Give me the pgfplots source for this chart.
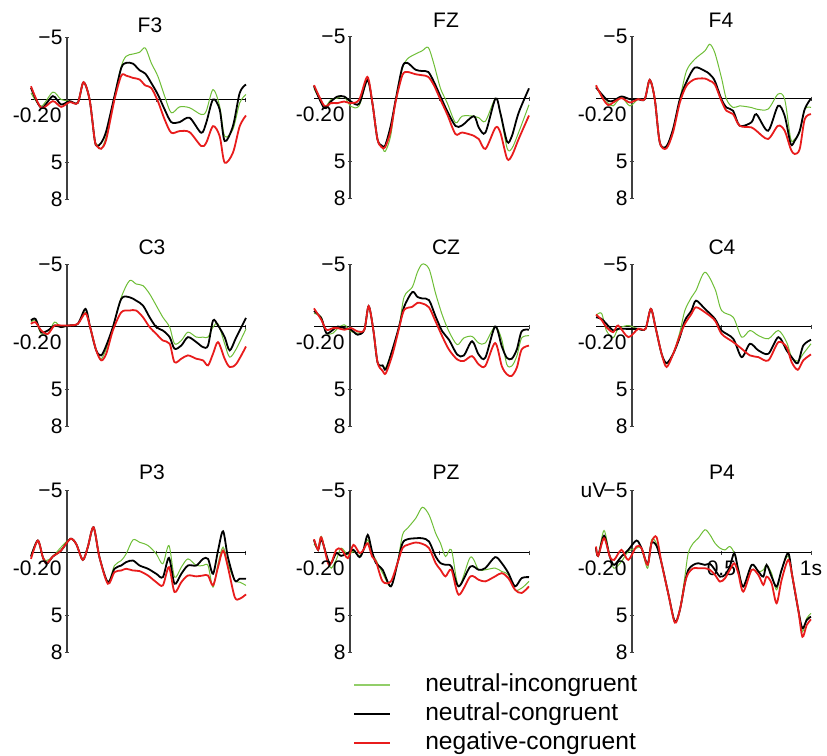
\documentclass[border=0pt]{standalone}
\usepackage{fontspec}
\setmainfont{Liberation Sans}
\usepackage{pgfplots}
\usepackage{pgfplotstable}
\pgfplotsset{compat=1.18}

\definecolor{ninc}{RGB}{110,190,55}
\definecolor{negc}{RGB}{232,28,28}

% t = time (s), g = neutral-incongruent, b = neutral-congruent, r = negative-congruent (uV)
\pgfplotstableread{
t g b r
-0.200 -0.53 -0.93 -1.06
-0.143 0.53 0.66 0.66
-0.078 -0.59 -0.27 0.13
-0.032 0.00 0.40 0.59
0.015 0.13 0.13 0.21
0.061 0.27 0.27 0.27
0.093 -1.38 -1.38 -1.38
0.127 0.00 0.00 0.00
0.155 3.19 3.19 3.19
0.168 3.59 3.72 3.72
0.192 3.94 3.46 3.94
0.220 2.93 2.53 3.19
0.266 -0.27 -0.27 0.00
0.304 -2.66 -2.53 -1.91
0.331 -3.46 -2.93 -1.91
0.369 -3.64 -2.87 -1.73
0.406 -3.78 -2.34 -1.60
0.438 -4.12 -2.07 -1.12
0.471 -2.93 -1.33 -0.93
0.508 -1.86 -0.40 0.13
0.546 -0.27 0.80 1.60
0.583 1.06 1.81 2.66
0.629 0.59 1.81 2.53
0.685 0.66 1.46 2.61
0.750 1.20 2.66 3.72
0.778 0.93 1.86 3.46
0.816 -0.80 0.00 2.13
0.853 0.53 0.80 2.93
0.881 2.93 3.32 5.05
0.927 2.39 2.13 4.26
0.965 0.27 -0.53 2.13
1.000 -0.40 -1.20 1.28
}\dFthree

\pgfplotstableread{
t g b r
-0.200 -0.81 -0.99 -1.07
-0.143 0.63 0.76 0.58
-0.106 0.10 0.24 0.37
-0.069 -0.03 -0.16 0.37
-0.032 -0.16 -0.16 0.24
0.006 0.63 0.24 0.37
0.052 0.58 0.42 0.10
0.098 -1.47 -1.47 -1.73
0.126 0.37 0.37 0.37
0.154 3.25 3.25 3.25
0.178 3.77 3.77 3.90
0.197 4.24 3.77 3.90
0.228 2.98 2.20 2.59
0.256 0.10 0.10 0.24
0.293 -2.38 -2.51 -1.86
0.321 -3.17 -2.85 -2.12
0.367 -3.56 -2.30 -1.94
0.404 -3.82 -2.20 -1.86
0.438 -4.08 -2.12 -1.73
0.469 -2.77 -1.34 -1.07
0.506 -0.81 -0.16 0.10
0.544 0.37 1.02 1.28
0.590 1.94 2.20 2.85
0.627 1.41 2.15 2.72
0.692 1.41 1.41 2.98
0.720 1.54 2.33 3.25
0.757 1.81 2.72 4.03
0.813 0.00 0.00 2.33
0.840 1.15 1.15 2.72
0.878 3.98 3.46 4.82
0.905 3.98 2.98 4.55
0.942 2.72 1.15 3.25
1.000 0.50 -0.81 1.36
}\dFZ

\pgfplotstableread{
t g b r
-0.200 -0.96 -0.88 -1.06
-0.160 0.05 -0.21 0.05
-0.132 0.37 0.19 0.53
-0.104 0.59 0.19 0.32
-0.058 -0.08 -0.16 -0.03
-0.011 0.59 0.05 0.32
0.035 0.05 0.05 0.05
0.072 0.05 0.05 0.05
0.100 -1.49 -1.49 -1.49
0.128 0.05 0.05 0.05
0.156 3.51 3.51 3.51
0.193 3.83 3.83 3.99
0.230 2.45 2.45 2.71
0.268 0.05 0.05 0.32
0.305 -2.21 -1.33 -1.01
0.351 -3.14 -2.47 -1.54
0.407 -3.80 -2.21 -1.60
0.435 -4.34 -1.94 -1.41
0.463 -3.67 -1.41 -1.14
0.500 -1.68 0.05 0.19
0.528 0.05 0.72 0.98
0.565 0.72 0.98 1.25
0.602 0.59 2.18 2.18
0.667 0.72 1.91 2.31
0.695 0.85 1.25 2.58
0.760 0.85 2.58 3.24
0.816 -0.35 0.59 2.18
0.853 0.05 1.38 2.58
0.887 3.24 3.64 4.04
0.909 3.24 3.38 4.44
0.937 2.71 2.58 4.04
0.965 0.85 0.85 1.65
1.000 0.72 0.00 1.25
}\dFfour

\pgfplotstableread{
t g b r
-0.200 -0.35 -0.48 -0.21
-0.175 -0.48 -0.61 -0.35
-0.143 0.59 0.45 0.32
-0.106 0.59 0.32 0.59
-0.069 -0.35 -0.08 -0.08
-0.032 0.05 0.05 -0.08
0.006 -0.08 -0.08 -0.08
0.061 -0.21 -0.21 -0.21
0.104 -1.14 -1.41 -1.06
0.130 0.05 0.05 0.05
0.164 1.91 1.91 1.91
0.192 2.58 2.31 2.71
0.220 1.78 1.52 2.18
0.257 0.05 0.05 0.32
0.304 -2.34 -2.21 -1.14
0.350 -3.67 -2.34 -1.28
0.387 -3.40 -2.07 -1.28
0.425 -3.27 -1.68 -0.74
0.462 -2.61 -0.74 0.05
0.499 -1.68 0.05 0.59
0.536 -0.74 0.32 1.12
0.574 0.05 0.85 1.38
0.601 1.38 1.78 2.85
0.639 1.12 1.52 2.58
0.676 0.45 0.85 2.31
0.723 0.85 1.25 2.58
0.760 0.85 1.65 2.71
0.788 0.85 1.52 3.11
0.816 0.05 -0.48 2.18
0.844 -0.21 -0.08 1.25
0.881 1.38 0.85 2.58
0.909 2.45 1.91 3.24
0.946 1.78 0.85 2.98
1.000 0.19 -0.69 1.60
}\dCthree

\pgfplotstableread{
t g b r
-0.200 -1.05 -1.24 -1.45
-0.159 -0.74 -0.66 -0.53
-0.131 0.53 0.53 0.26
-0.094 0.53 0.26 0.13
-0.067 0.13 0.00 0.13
-0.030 -0.13 0.13 0.26
0.007 0.39 0.26 0.13
0.044 0.53 0.66 0.39
0.081 0.26 0.26 0.26
0.105 -1.63 -1.63 -1.63
0.131 0.26 0.26 0.26
0.155 2.89 2.89 2.89
0.183 3.16 3.11 3.55
0.201 3.29 3.42 3.74
0.238 1.84 1.84 2.24
0.275 0.00 0.00 0.13
0.303 -2.37 -1.58 -1.32
0.349 -3.16 -2.76 -1.58
0.377 -4.34 -2.37 -1.89
0.405 -5.00 -2.24 -1.84
0.442 -4.61 -2.11 -1.53
0.479 -2.63 -0.79 -0.39
0.516 -0.92 0.39 0.79
0.553 0.39 1.05 1.84
0.599 1.45 2.24 2.63
0.636 0.92 2.32 2.76
0.682 0.79 1.18 2.37
0.719 1.32 2.24 3.03
0.756 1.32 2.50 3.16
0.811 0.00 0.00 1.32
0.848 1.05 1.58 3.16
0.876 3.03 2.50 3.82
0.904 3.16 2.58 3.95
0.932 2.37 1.84 3.29
0.959 0.92 0.39 1.84
1.000 0.74 0.26 1.53
}\dCZ

\pgfplotstableread{
t g b r
-0.200 -0.88 -0.74 -0.96
-0.169 -1.06 -0.61 -0.53
-0.142 0.32 -0.21 0.05
-0.104 0.90 0.32 0.45
-0.076 0.19 0.19 -0.08
-0.020 -0.08 0.19 0.85
0.035 0.19 0.19 0.19
0.076 0.19 0.19 0.19
0.106 -1.41 -1.41 -1.41
0.132 0.05 0.05 0.05
0.166 2.18 2.18 2.18
0.194 2.98 2.93 3.24
0.231 2.18 2.18 2.18
0.268 0.45 0.85 0.72
0.296 -1.28 -0.48 -0.21
0.333 -2.34 -1.28 -1.01
0.358 -2.87 -2.07 -1.54
0.408 -4.34 -1.41 -1.14
0.464 -3.01 -0.61 -0.48
0.501 -1.28 0.32 0.59
0.566 -0.74 0.98 1.25
0.613 0.85 2.45 1.78
0.659 0.32 1.38 2.31
0.706 0.72 1.91 2.45
0.762 0.98 2.18 2.71
0.818 0.32 0.85 1.25
0.864 1.25 1.91 1.65
0.892 2.45 2.45 2.85
0.926 2.77 2.93 3.46
0.957 2.18 1.52 2.71
1.000 1.38 1.06 2.23
}\dCfour

\pgfplotstableread{
t g b r
-0.200 0.24 0.32 0.51
-0.162 -0.96 -0.96 -0.96
-0.134 0.37 0.37 0.37
-0.112 0.64 0.90 0.85
-0.078 0.32 0.32 0.32
-0.032 -0.43 -0.16 -0.16
0.019 -1.09 -1.09 -1.09
0.052 -0.69 -0.69 -0.69
0.089 0.59 0.59 0.59
0.117 -0.43 -0.43 -0.43
0.149 -2.02 -2.02 -2.02
0.182 0.37 0.37 0.37
0.229 2.37 2.37 2.50
0.266 1.04 1.30 1.57
0.304 0.64 1.04 1.44
0.331 0.11 0.77 1.30
0.369 -1.01 0.64 1.44
0.406 -0.82 1.04 1.49
0.453 -0.56 1.30 1.84
0.499 0.11 1.70 2.37
0.536 0.90 1.97 2.63
0.570 -0.56 0.43 1.17
0.601 1.97 2.50 3.16
0.639 1.17 1.70 2.37
0.676 0.51 1.04 1.84
0.723 1.04 1.04 1.91
0.760 1.04 0.51 1.84
0.788 1.04 0.51 1.84
0.816 2.77 1.70 2.63
0.844 0.90 -0.16 1.17
0.872 -0.43 -1.70 -0.16
0.899 0.90 0.37 1.17
0.937 2.23 2.23 3.56
0.965 2.37 2.10 3.70
1.000 2.63 2.10 3.35
}\dPthree

\pgfplotstableread{
t g b r
-0.200 -0.69 -1.01 -1.06
-0.177 -0.35 -0.21 -0.21
-0.159 -1.28 -1.06 -1.22
-0.122 0.72 0.59 0.85
-0.104 1.25 0.85 0.85
-0.076 0.59 0.05 -0.21
-0.048 -0.35 0.27 -0.27
-0.011 0.19 0.05 0.45
0.020 -0.08 -0.21 -0.61
0.054 0.27 0.37 0.05
0.076 -0.21 -0.21 -0.21
0.100 -1.01 -1.41 -0.74
0.124 0.05 -0.08 0.32
0.146 0.59 0.85 0.72
0.183 1.65 1.38 2.31
0.229 2.71 2.71 2.31
0.266 0.85 0.85 0.85
0.294 -1.41 -0.74 -0.35
0.322 -1.94 -1.06 -0.61
0.368 -2.74 -1.14 -0.80
0.405 -3.62 -1.14 -0.69
0.442 -3.01 -0.88 -0.35
0.479 -1.54 0.32 0.85
0.506 -0.74 0.85 1.38
0.534 0.32 0.98 1.91
0.567 -0.21 1.12 1.38
0.608 2.71 2.71 3.38
0.673 0.37 1.12 1.91
0.719 1.38 1.38 2.18
0.756 1.38 1.25 2.31
0.811 1.25 0.37 1.91
0.848 1.52 0.85 1.65
0.885 1.78 1.65 2.05
0.922 2.98 2.71 2.98
0.959 2.85 2.05 3.24
1.000 2.31 1.97 2.71
}\dPZ

\pgfplotstableread{
t g b r
-0.200 -0.21 -0.35 -0.48
-0.188 0.27 0.27 0.27
-0.155 -1.76 -1.34 -1.15
-0.123 0.32 0.32 0.32
-0.099 1.26 0.99 0.59
-0.058 0.72 0.32 -0.21
-0.020 -0.08 -0.21 0.59
0.026 -0.35 -0.96 -0.48
0.054 -0.35 -0.35 -0.35
0.088 1.26 0.91 0.99
0.110 -1.02 -0.75 -0.80
0.138 -0.70 -0.53 -1.23
0.166 0.86 0.86 0.86
0.203 3.26 3.26 3.26
0.240 5.53 5.53 5.61
0.268 4.60 4.60 4.60
0.296 1.93 2.46 2.46
0.315 0.05 1.39 1.66
0.343 -0.75 0.99 1.26
0.371 -1.15 0.86 1.26
0.408 -1.82 0.99 1.26
0.436 -1.42 0.91 1.39
0.464 -0.75 1.39 1.79
0.492 -0.35 1.93 2.33
0.520 -0.21 1.79 2.06
0.547 -0.48 1.12 1.39
0.572 0.05 0.05 0.86
0.594 1.26 1.39 1.66
0.622 2.73 2.73 3.13
0.669 0.99 0.99 1.39
0.706 1.52 1.52 1.79
0.734 1.39 1.93 2.59
0.752 0.99 0.99 1.93
0.780 1.66 1.93 2.46
0.808 2.99 2.73 4.06
0.836 1.39 1.39 2.19
0.873 0.27 0.05 0.59
0.896 1.93 1.93 1.93
0.929 4.60 4.60 4.60
0.952 6.34 6.07 6.74
0.976 5.27 5.40 5.80
1.000 4.87 5.13 5.35
}\dPfour

\tikzset{
  ga/.style={ninc, line width=0.5pt, smooth},
  bl/.style={black, line width=0.9pt, smooth},
  rd/.style={negc, line width=0.9pt, smooth},
}
\pgfplotsset{
  erp/.style={
    scale only axis, width=107.5pt, height=81.25pt,
    anchor=north west,
    xmin=-0.2, xmax=1, ymin=-5, ymax=8, y dir=reverse,
    enlargelimits=false, clip=false,
    axis lines=middle,
    x axis line style={-, black, line width=0.5pt},
    y axis line style={-, black!75, line width=0.7pt},
    xtick={0.5,1}, xticklabels={},
    ytick={-5,5,8}, yticklabels={−5,5,8},
    tick style={black!75, line width=0.5pt},
    major tick length=2pt,
    tick label style={font=\fontsize{10.5}{12}\selectfont},
    yticklabel style={inner xsep=1pt},
    xticklabel style={inner sep=0pt, yshift=-3pt},
  },
}
\newcommand{\timelabels}{%
  \node[anchor=north, inner sep=0pt, yshift=-4pt, font=\fontsize{10.5}{12}\selectfont] at (axis cs:-0.2,0) {-0.2};
  \node[anchor=north east, inner sep=0pt, yshift=-4pt, xshift=-2.5pt, font=\fontsize{10.5}{12}\selectfont] at (axis cs:0,0) {0};
}

\begin{document}
\begin{tikzpicture}
\path[use as bounding box] (0,0) rectangle (413.5pt,-378pt);

% row 1
\begin{axis}[erp, at={(15.5pt,-18.5pt)}]
\addplot[ga] table[x=t,y=g]{\dFthree};
\addplot[bl] table[x=t,y=b]{\dFthree};
\addplot[rd] table[x=t,y=r]{\dFthree};
\timelabels
\end{axis}
\begin{axis}[erp, at={(157pt,-18pt)}]
\addplot[ga] table[x=t,y=g]{\dFZ};
\addplot[bl] table[x=t,y=b]{\dFZ};
\addplot[rd] table[x=t,y=r]{\dFZ};
\timelabels
\end{axis}
\begin{axis}[erp, at={(298pt,-18pt)}]
\addplot[ga] table[x=t,y=g]{\dFfour};
\addplot[bl] table[x=t,y=b]{\dFfour};
\addplot[rd] table[x=t,y=r]{\dFfour};
\timelabels
\end{axis}

% row 2
\begin{axis}[erp, at={(15.5pt,-132pt)}]
\addplot[ga] table[x=t,y=g]{\dCthree};
\addplot[bl] table[x=t,y=b]{\dCthree};
\addplot[rd] table[x=t,y=r]{\dCthree};
\timelabels
\end{axis}
\begin{axis}[erp, at={(157pt,-132pt)}]
\addplot[ga] table[x=t,y=g]{\dCZ};
\addplot[bl] table[x=t,y=b]{\dCZ};
\addplot[rd] table[x=t,y=r]{\dCZ};
\timelabels
\end{axis}
\begin{axis}[erp, at={(298pt,-132pt)}]
\addplot[ga] table[x=t,y=g]{\dCfour};
\addplot[bl] table[x=t,y=b]{\dCfour};
\addplot[rd] table[x=t,y=r]{\dCfour};
\timelabels
\end{axis}

% row 3
\begin{axis}[erp, at={(15.5pt,-245pt)}]
\addplot[ga] table[x=t,y=g]{\dPthree};
\addplot[bl] table[x=t,y=b]{\dPthree};
\addplot[rd] table[x=t,y=r]{\dPthree};
\timelabels
\end{axis}
\begin{axis}[erp, at={(157pt,-245pt)},
  legend style={at={(axis description cs:0.181,-0.111)}, anchor=north west,
    draw=none, fill=none, inner sep=0pt,
    font=\fontsize{12.3}{14}\selectfont,
    nodes={text height=9.2pt, text depth=2.8pt, inner ysep=1.25pt, inner xsep=1pt},
    /tikz/every odd column/.append style={column sep=16pt}},
  legend cell align=left,
  legend image code/.code={\draw[#1] (0pt,0pt) -- (18pt,0pt);}]
\addlegendimage{color=ninc!75, line width=1pt}
\addlegendentry{neutral-incongruent}
\addlegendimage{color=black, line width=1pt}
\addlegendentry{neutral-congruent}
\addlegendimage{color=negc, line width=1pt}
\addlegendentry{negative-congruent}
\addplot[ga, forget plot] table[x=t,y=g]{\dPZ};
\addplot[bl, forget plot] table[x=t,y=b]{\dPZ};
\addplot[rd, forget plot] table[x=t,y=r]{\dPZ};
\timelabels
\end{axis}
\begin{axis}[erp, at={(298pt,-245pt)}, xticklabels={0.5,1s}]
\addplot[ga] table[x=t,y=g]{\dPfour};
\addplot[bl] table[x=t,y=b]{\dPfour};
\addplot[rd] table[x=t,y=r]{\dPfour};
\timelabels
\node[anchor=east, inner sep=0pt, xshift=-12.5pt, font=\fontsize{10.5}{12}\selectfont] at (axis cs:0,-5) {uV};
\end{axis}

% channel names
\begin{scope}[every node/.style={font=\fontsize{10.5}{12}\selectfont}]
\node at (75pt,-12.5pt) {F3};
\node at (223pt,-10pt) {FZ};
\node at (360.5pt,-10pt) {F4};
\node at (76pt,-123.5pt) {C3};
\node at (223pt,-123.5pt) {CZ};
\node at (361pt,-123.5pt) {C4};
\node at (76pt,-236pt) {P3};
\node at (223pt,-236pt) {PZ};
\node at (361pt,-236pt) {P4};
\end{scope}
\end{tikzpicture}
\end{document}
